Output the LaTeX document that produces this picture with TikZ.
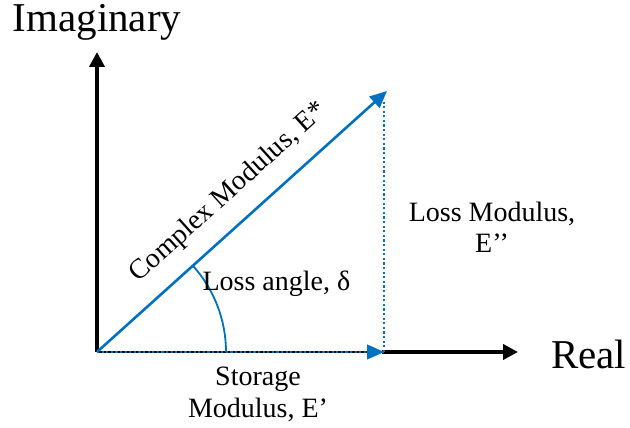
\documentclass[tikz,border=0pt]{standalone}
\usepackage{fontspec}
\setmainfont{Liberation Serif}
\usetikzlibrary{arrows.meta}
\definecolor{PhBlue}{HTML}{0070C0}
\definecolor{PhAxis}{HTML}{000000}

\begin{document}
\begin{tikzpicture}[x=1pt,y=1pt]
\path[use as bounding box] (0,0) rectangle (630,428);
\tikzset{
  bigtext/.style={font=\fontsize{41}{45}\selectfont,inner sep=1pt,text=black},
  midtext/.style={font=\fontsize{28}{32}\selectfont,align=center,text=black},
  axisline/.style={PhAxis,line width=4.5pt,-{Triangle[length=15pt,width=15pt]}},
  vecline/.style={PhBlue,line width=2.6pt,-{Triangle[length=17pt,width=15pt]}},
  dotline/.style={PhBlue,line width=2.6pt,dash pattern=on 2.2pt off 2.4pt}
}
\coordinate (O) at (97,76);
\coordinate (Ytip) at (97,376);
\coordinate (Xtip) at (518,76);
\coordinate (Etip) at (387,337);
\coordinate (Efoot) at (384,76);
\coordinate (Etop) at (384,326);
% axes
\draw[axisline] (O) -- (Ytip);
\draw[PhAxis,line width=4.5pt] (Efoot) -- ++(-2,0);
\draw[axisline] (Efoot) -- (Xtip);
\draw[PhAxis,line width=1.6pt] (O) -- (Efoot);
\node[bigtext,anchor=north] (imag) at (97,425) {Imaginary};
\node[bigtext,anchor=west] (real) at (550,74) {Real};
% vectors
\draw[dotline] (Efoot) -- (Etop);
\draw[dotline] (O) -- (Efoot);
\draw[PhBlue,-{Triangle[length=17pt,width=15pt]}] (372,76) -- (Efoot);
\draw[vecline] (O) -- (Etip)
  node[midtext,pos=0.525,sloped,above=13pt] (cplx) {Complex Modulus, E*};
\draw[PhBlue,line width=1.8pt] (O) ++(129,0) arc[start angle=0,end angle=42.1,radius=129];
% labels
\node[midtext,anchor=west] (delta) at (199,144) {Loss angle, δ};
\node[midtext] (loss) at (492,201) {Loss Modulus,\\[-1pt]E’’};
\node[midtext] (stor) at (258,34) {Storage\\[0pt]Modulus, E’};
\end{tikzpicture}
\end{document}
